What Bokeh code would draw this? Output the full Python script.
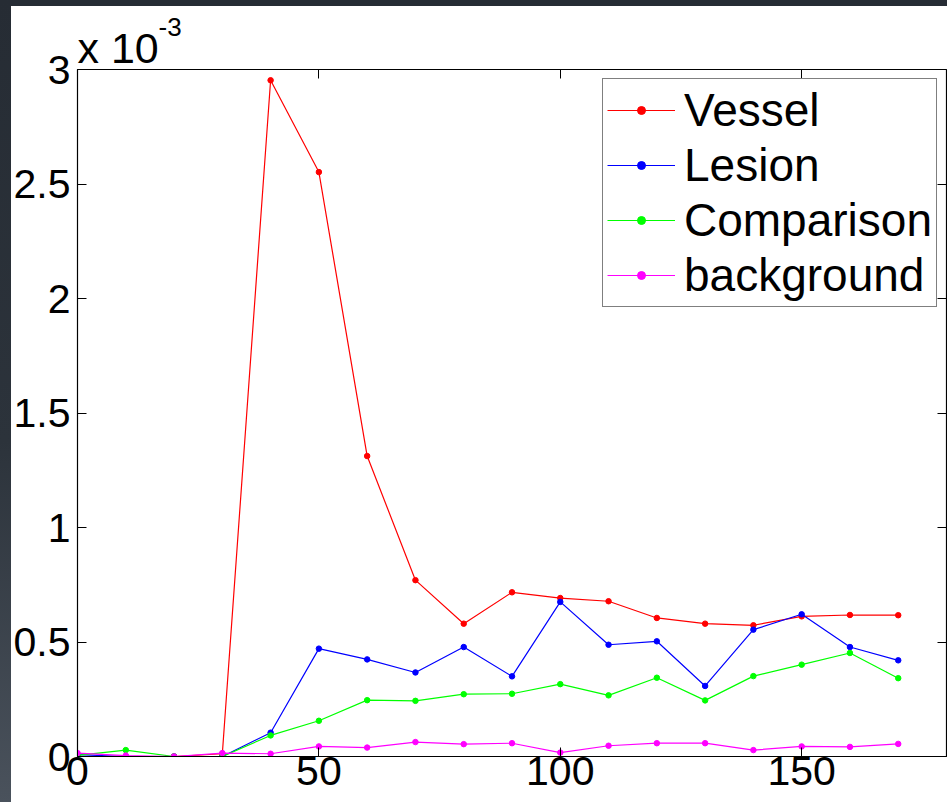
from bokeh.plotting import figure
from bokeh.models import LinearAxis, FixedTicker, Range1d, Label, Div
from bokeh.layouts import column
from bokeh.embed import file_html
from bokeh.resources import INLINE

# ---- data (values in units of 1e-3) ----
x = [0, 10, 20, 30, 40, 50, 60, 70, 80, 90, 100, 110, 120, 130, 140, 150, 160, 170]
vessel = [0.0, 0.0, 0.0, 0.012, 2.953, 2.552, 1.312, 0.770, 0.580, 0.717, 0.692,
          0.678, 0.605, 0.580, 0.573, 0.612, 0.618, 0.617]
lesion = [0.008, 0.0, 0.0, 0.0, 0.104, 0.471, 0.424, 0.367, 0.478, 0.350, 0.675,
          0.488, 0.503, 0.308, 0.554, 0.621, 0.478, 0.420]
comparison = [0.005, 0.028, 0.0, 0.0, 0.092, 0.156, 0.246, 0.243, 0.272, 0.274, 0.316,
              0.267, 0.344, 0.245, 0.351, 0.401, 0.452, 0.342]
background = [0.015, 0.004, 0.0, 0.015, 0.012, 0.044, 0.039, 0.063, 0.054, 0.058, 0.017,
              0.047, 0.058, 0.058, 0.028, 0.044, 0.042, 0.055]

series_names = ["Vessel", "Lesion", "Comparison", "background"]
series_colors = ["#ff0000", "#0000ff", "#00ff00", "#ff00ff"]

x_ticks = [0, 50, 100, 150]
y_ticks = [0, 0.5, 1, 1.5, 2, 2.5, 3]
y_tick_labels = ["0", "0.5", "1", "1.5", "2", "2.5", "3"]
exponent_base = "x 10"
exponent_power = "-3"

FONT = "Liberation Sans"

p = figure(width=947, height=802, output_backend="svg", toolbar_location=None,
           x_range=Range1d(0, 180), y_range=Range1d(0, 3),
           x_axis_type=None, y_axis_type=None,
           min_border_left=77, min_border_right=1, min_border_top=69, min_border_bottom=46)
p.background_fill_color = "white"
p.border_fill_color = "white"
p.outline_line_color = "black"
p.outline_line_width = 1.2
p.xgrid.visible = False
p.ygrid.visible = False

for vals, name, col in zip([vessel, lesion, comparison, background], series_names, series_colors):
    p.line(x, vals, line_color=col, line_width=1.2, legend_label=name)
    p.scatter(x, vals, size=5.5, fill_color=col, line_color=col, legend_label=name)


def style_axis(ax, labels=True):
    ax.major_tick_in = 9
    ax.major_tick_out = 0
    ax.minor_tick_in = 0
    ax.minor_tick_out = 0
    ax.axis_line_color = "black"
    ax.major_tick_line_color = "black"
    ax.major_tick_line_width = 1
    if labels:
        ax.major_label_text_font = FONT
        ax.major_label_text_font_size = "41px"
        ax.major_label_text_color = "black"
    else:
        ax.major_label_text_font_size = "0px"
        ax.major_label_text_alpha = 0


xb = LinearAxis(ticker=FixedTicker(ticks=x_ticks))
style_axis(xb)
xb.major_label_standoff = 0
p.add_layout(xb, "below")

xt = LinearAxis(ticker=FixedTicker(ticks=x_ticks), fixed_location=3)
style_axis(xt, labels=False)
p.add_layout(xt, "above")

yl = LinearAxis(ticker=FixedTicker(ticks=y_ticks),
                major_label_overrides={t: s for t, s in zip(y_ticks, y_tick_labels)})
style_axis(yl)
yl.major_label_standoff = 7
p.add_layout(yl, "left")

yr = LinearAxis(ticker=FixedTicker(ticks=y_ticks), fixed_location=180)
style_axis(yr, labels=False)
p.add_layout(yr, "right")

# exponent text above the top-left corner of the axes
p.add_layout(Label(x=77, y=47, x_units="canvas", y_units="canvas", text=exponent_base,
                   text_font=FONT, text_font_size="43px", text_color="black",
                   text_baseline="alphabetic", text_align="left"), "above")
p.add_layout(Label(x=158, y=26, x_units="canvas", y_units="canvas", text=exponent_power,
                   text_font=FONT, text_font_size="26px", text_color="black",
                   text_baseline="alphabetic", text_align="left"), "above")

lg = p.legend[0]
lg.location = "top_right"
lg.margin = 9
lg.padding = 4
lg.spacing = 1
lg.glyph_width = 68
lg.glyph_height = 20
lg.label_standoff = 9
lg.label_text_font = FONT
lg.label_text_font_size = "46px"
lg.label_text_color = "black"
lg.border_line_color = "black"
lg.border_line_width = 1.2
lg.background_fill_color = "white"
lg.background_fill_alpha = 1.0

# dark slide background strips (top and left edge of the screenshot), laid over the page corner
top_strip = Div(text="", width=947, height=6, margin=0,
                styles={"position": "absolute", "top": "0px", "left": "0px",
                        "z-index": "5", "background-color": "#262c34"})
left_strip = Div(text="", width=11, height=802, margin=0,
                 styles={"position": "absolute", "top": "0px", "left": "0px", "z-index": "5",
                         "background": "linear-gradient(to bottom, #262c34 0%, #2c333b 55%, #4a525c 100%)"})
page = column(p, top_strip, left_strip, spacing=0)

open("out.html", "w").write(file_html(page, INLINE))
